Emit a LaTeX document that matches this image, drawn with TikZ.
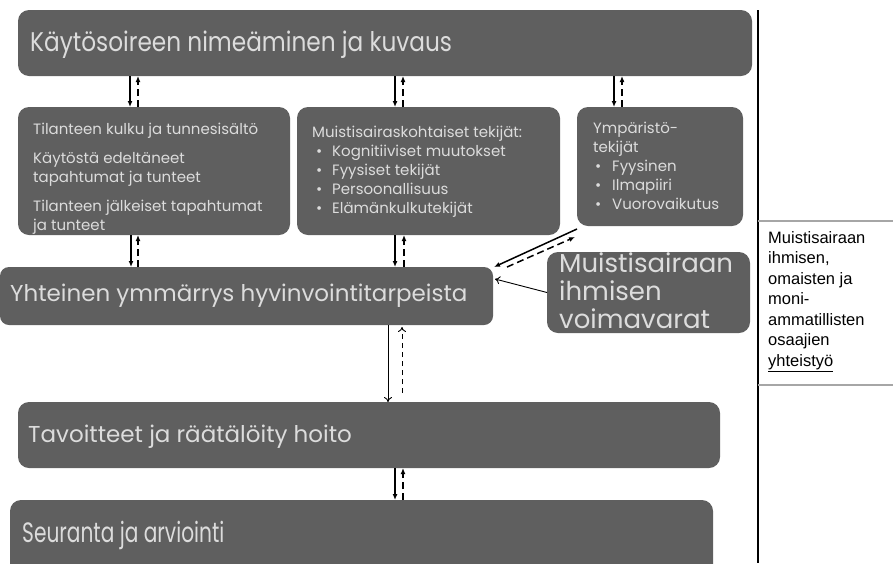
\documentclass[tikz,border=0pt]{standalone}
\usepackage{fontspec}
\setmainfont{Poppins}
\newfontfamily\rfont{Liberation Sans}
\usetikzlibrary{arrows.meta}
\definecolor{boxgray}{HTML}{5F5F5F}
\definecolor{txtgray}{HTML}{DCDCDC}
\definecolor{rulegray}{HTML}{A6A6A6}
\newcommand{\bulB}[1]{\makebox[14pt][c]{•}\hspace{6pt}#1}
\newcommand{\bulC}[1]{\makebox[10pt][c]{•}\hspace{9pt}#1}
\begin{document}
\begin{tikzpicture}[x=1pt,y=-1pt,
  box/.style={fill=boxgray,draw=none,rounded corners=11pt,anchor=north west,inner sep=0pt,outer sep=0pt},
  txt/.style={text=txtgray,inner sep=0pt,anchor=base west},
  small/.style={txt,font=\fontsize{15}{18}\selectfont},
  rtxt/.style={inner sep=0pt,anchor=base west,font=\rfont\fontsize{16.5}{20}\selectfont},
  solidarr/.style={line width=1.5pt,-{Latex[length=6pt,width=5pt]}},
  dasharr/.style={line width=1.5pt,dash pattern=on 7pt off 4pt,-{Latex[length=6pt,width=5pt]}},
  thinarr/.style={line width=0.9pt,-{To[length=5pt,width=8pt]}},
  thindash/.style={line width=0.9pt,dash pattern=on 5pt off 4pt,-{To[length=5pt,width=8pt]}}]
\useasboundingbox (0,0) rectangle (893,563);
% boxes
\node[box,minimum width=734,minimum height=66] (top) at (18,10) {};
\node[box,minimum width=272,minimum height=128] (A) at (18,107) {};
\node[box,minimum width=263,minimum height=128] (B) at (297,107) {};
\node[box,minimum width=166,minimum height=119] (C) at (577,107) {};
\node[box,minimum width=493,minimum height=58,rounded corners=9pt] (Y) at (0,267) {};
\node[box,minimum width=203,minimum height=81] (V) at (547,252) {};
\node[box,minimum width=702,minimum height=66] (T) at (18,402) {};
\node[box,minimum width=703,minimum height=75] (S) at (10,500) {};
% texts
\node[txt,anchor=west,font=\fontsize{27}{30}\selectfont] (ttop) at (30,45) {\scalebox{0.86}[1]{Käytösoireen nimeäminen ja kuvaus}};
\foreach \yy/\t [count=\i] in {134/Tilanteen kulku ja tunnesisältö,163/Käytöstä edeltäneet,182/tapahtumat ja tunteet,211/Tilanteen jälkeiset tapahtumat,230/ja tunteet}
  \node[small] (tA\i) at (33,\yy) {\t};
\foreach \yy/\t [count=\i] in {137/Muistisairaskohtaiset tekijät:,156/\bulB{Kognitiiviset muutokset},175/\bulB{Fyysiset tekijät},194/\bulB{Persoonallisuus},213/\bulB{Elämänkulkutekijät}}
  \node[small] (tB\i) at (312,\yy) {\t};
\foreach \yy/\t [count=\i] in {133/Ympäristö-,152/tekijät,171/\bulC{Fyysinen},190/\bulC{Ilmapiiri},209/\bulC{Vuorovaikutus}}
  \node[small] (tC\i) at (593,\yy) {\t};
\node[txt,anchor=west,font=\fontsize{23}{26}\selectfont] (tY) at (10,296) {Yhteinen ymmärrys hyvinvointitarpeista};
\foreach \yy/\t [count=\i] in {272/Muistisairaan,300/ihmisen,328/voimavarat}
  \node[txt,font=\fontsize{26}{28}\selectfont] (tV\i) at (559,\yy) {\t};
\node[txt,anchor=west,font=\fontsize{23}{26}\selectfont] (tT) at (28,437) {Tavoitteet ja räätälöity hoito};
\node[txt,anchor=west,font=\fontsize{28}{30}\selectfont] (tS) at (22,535) {\scalebox{0.72}[1]{Seuranta ja arviointi}};
% right column
\draw[line width=1.5pt] (758,10) -- (758,563);
\draw[rulegray,line width=1.5pt] (758,221) -- (893,221);
\draw[rulegray,line width=1.5pt] (758,385) -- (893,385);
\foreach \yy/\t [count=\i] in {243/Muistisairaan,263.5/{ihmisen,},284/omaisten ja,304.5/moni-,325/ammatillisten,345.5/osaajien,366/\underline{yhteistyö}}
  \node[rtxt] (tR\i) at (768,\yy) {\t};
% arrows top -> row
\draw[solidarr] ([xshift=112pt]top.south west) -- ([xshift=112pt]A.north west);
\draw[dasharr] ([xshift=120pt]A.north west) -- ([xshift=120pt]top.south west);
\draw[solidarr] ([xshift=377pt]top.south west) -- ([xshift=98pt]B.north west);
\draw[dasharr] ([xshift=106pt]B.north west) -- ([xshift=385pt]top.south west);
\draw[solidarr] ([xshift=596pt]top.south west) -- ([xshift=37pt]C.north west);
\draw[dasharr] ([xshift=45pt]C.north west) -- ([xshift=604pt]top.south west);
% row -> Y
\draw[solidarr] ([xshift=113pt]A.south west) -- ([xshift=131pt]Y.north west);
\draw[dasharr] ([xshift=138pt]Y.north west) -- ([xshift=120pt]A.south west);
\draw[solidarr] ([xshift=98pt]B.south west) -- ([xshift=395pt]Y.north west);
\draw[dasharr] ([xshift=404pt]Y.north west) -- ([xshift=107pt]B.south west);
\draw[solidarr] ([yshift=-3pt]C.south west) -- ([xshift=1pt]Y.north east);
\draw[dasharr] ([xshift=14pt]Y.north east) -- ([xshift=-2pt,yshift=-11pt]C.south west);
\draw[thinarr] (V.west) -- ([xshift=2pt,yshift=-12pt]Y.north east);
% Y -> T
\draw[thinarr] ([xshift=388pt]Y.south west) -- ([xshift=370pt]T.north west);
\draw[thindash] ([xshift=384pt,yshift=9pt]T.north west) -- ([xshift=402pt,yshift=-2pt]Y.south west);
% T -> S
\draw[solidarr] ([xshift=377pt]T.south west) -- ([xshift=385pt]S.north west);
\draw[dasharr] ([xshift=393pt]S.north west) -- ([xshift=385pt]T.south west);
\end{tikzpicture}
\end{document}
